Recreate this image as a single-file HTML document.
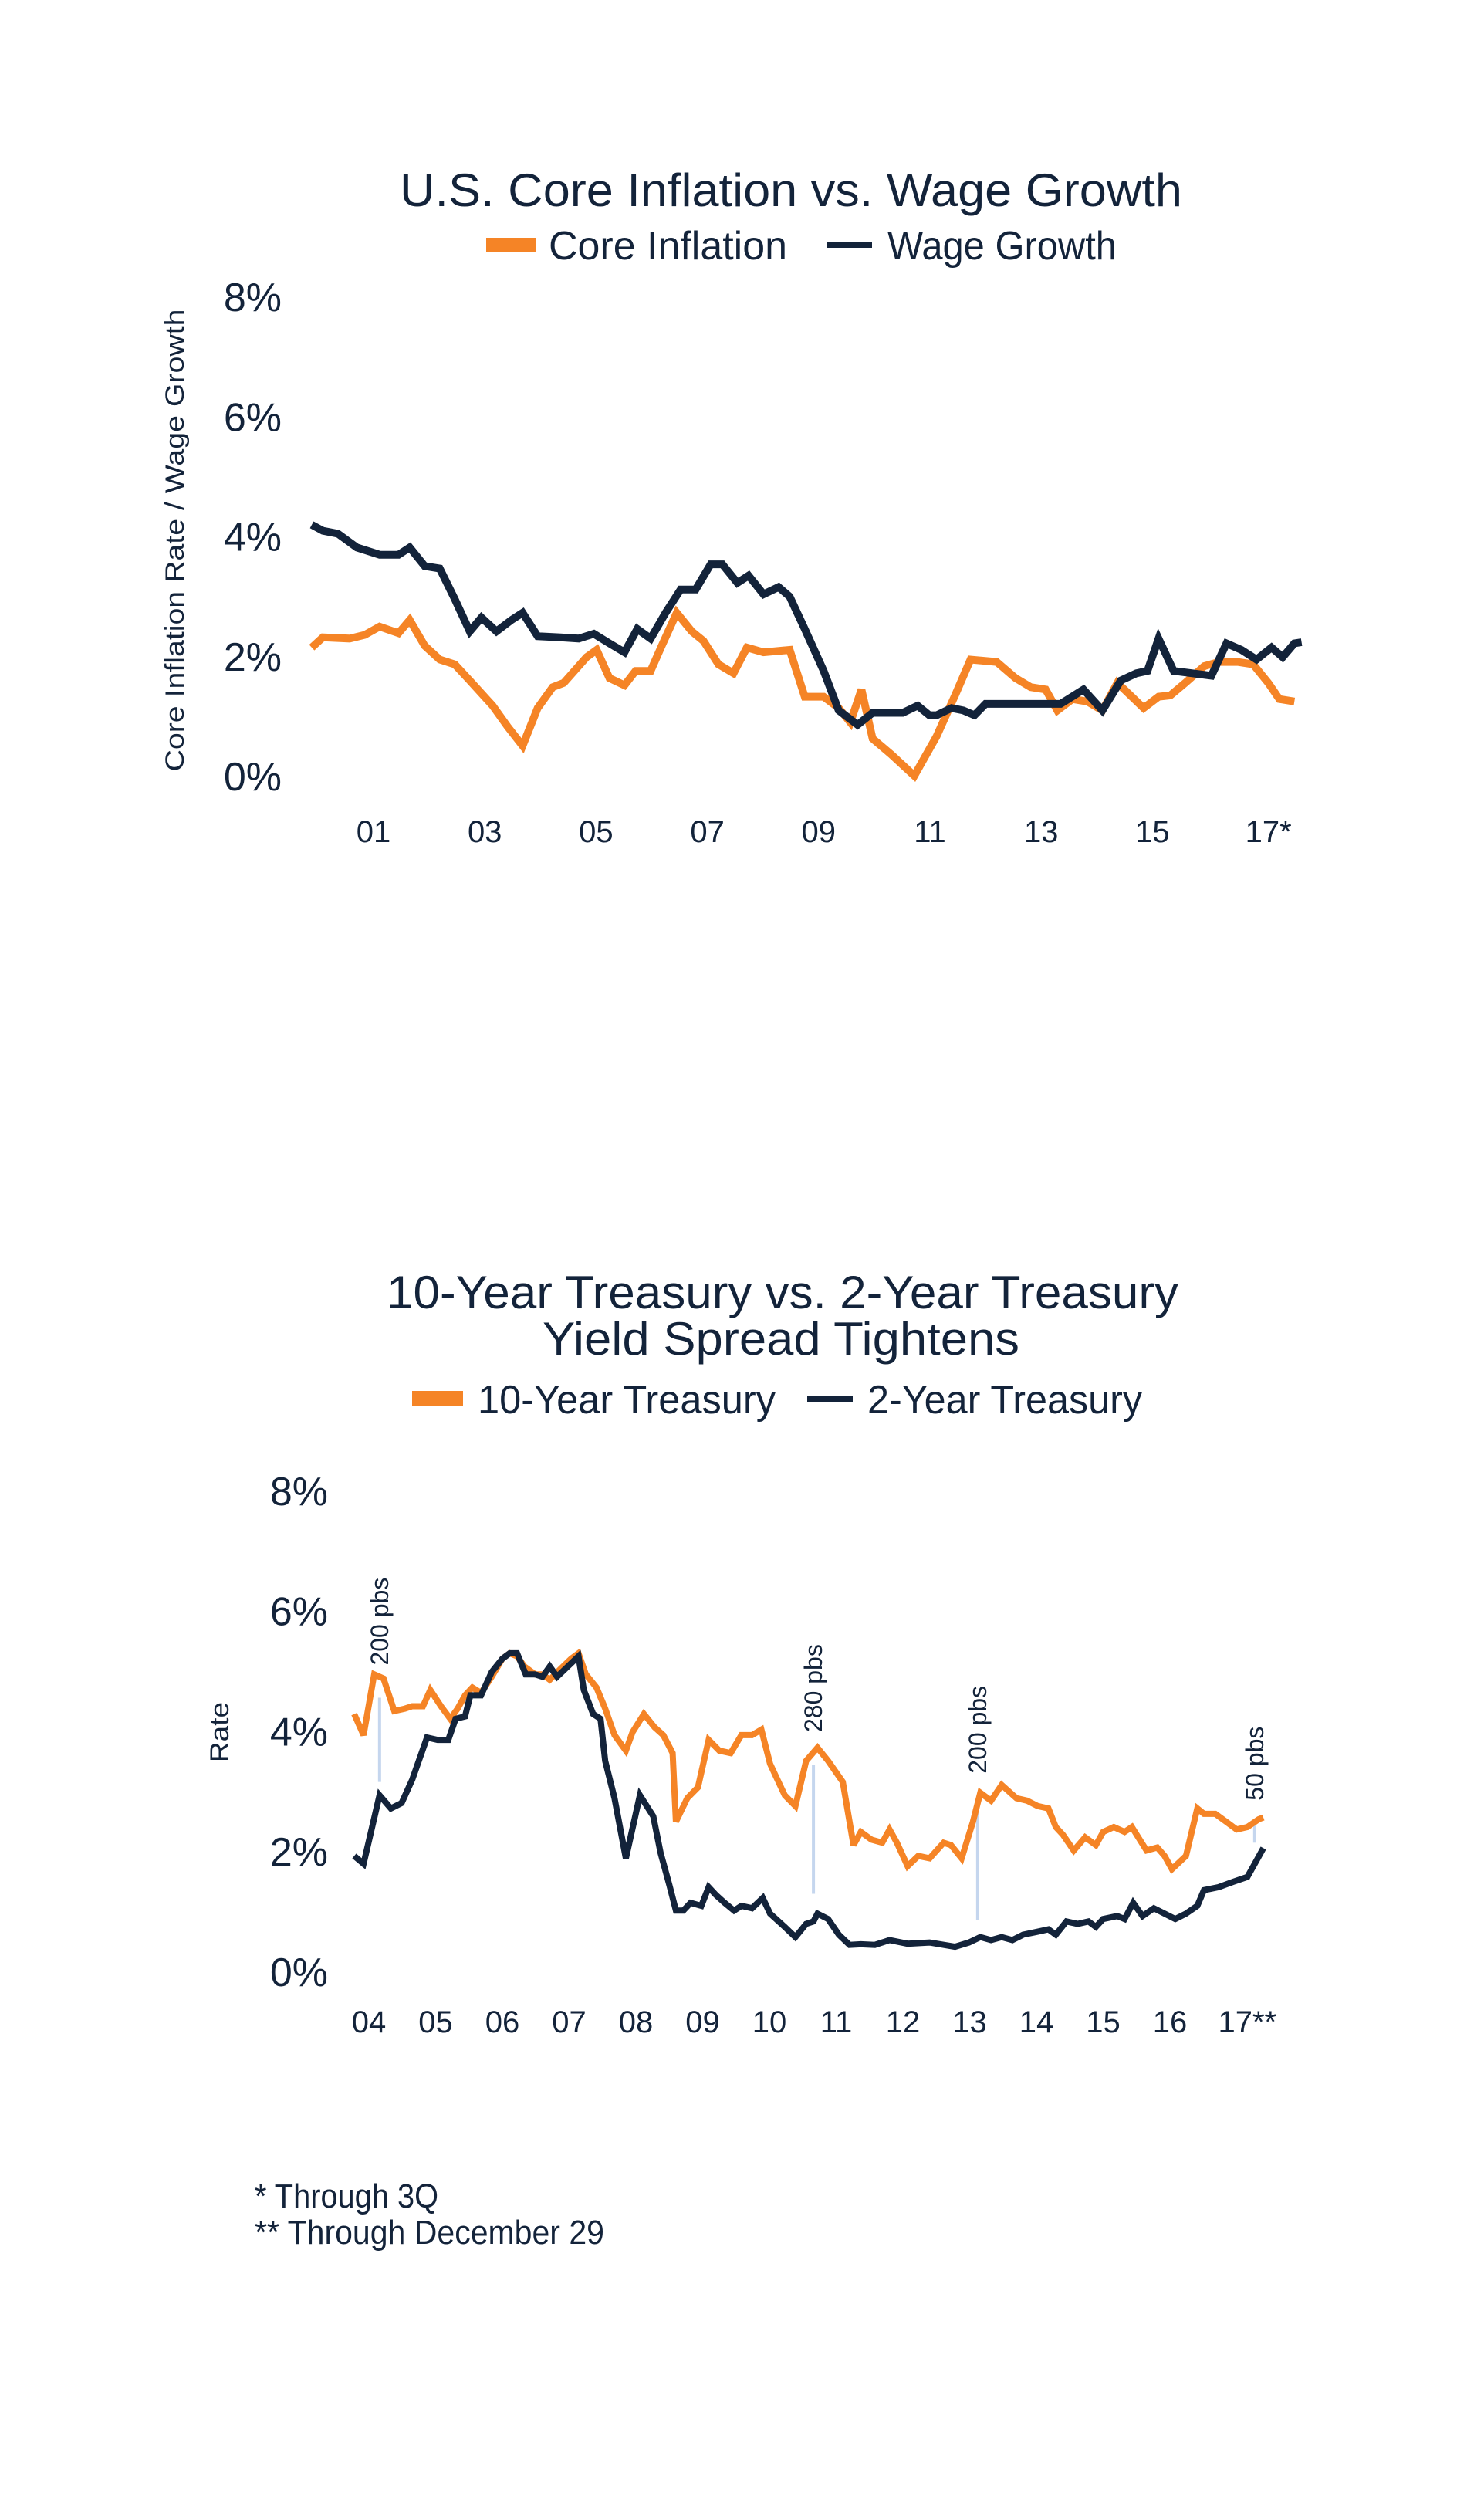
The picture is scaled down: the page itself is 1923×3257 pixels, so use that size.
<!DOCTYPE html>
<html><head><meta charset="utf-8"><style>
html,body{margin:0;padding:0;background:#fff;}
svg{display:block;}
text{font-family:"Liberation Sans",sans-serif;fill:#13233A;}
</style></head><body>
<svg id="page" width="1923" height="3257" viewBox="0 0 1923 3257" xmlns="http://www.w3.org/2000/svg">
<g id="chart1">
<text x="1025" y="267" font-size="60" text-anchor="middle" textLength="1014" lengthAdjust="spacingAndGlyphs">U.S. Core Inflation vs. Wage Growth</text>
<g>
<rect x="630" y="308" width="65" height="19" fill="#F58426"/>
<text x="711" y="336" font-size="52" textLength="309" lengthAdjust="spacingAndGlyphs">Core Inflation</text>
<rect x="1072" y="313" width="58" height="8" fill="#13233A"/>
<text x="1150" y="336" font-size="52" textLength="297" lengthAdjust="spacingAndGlyphs">Wage Growth</text>
</g>
<text transform="translate(238,700) rotate(-90)" font-size="34" text-anchor="middle" textLength="599" lengthAdjust="spacingAndGlyphs">Core Inflation Rate / Wage Growth</text>
<g id="c1-yticks"></g>
<g id="c1-xticks"></g>
<g id="c1-lines"></g>
</g>
<g id="chart2">
<text x="1014" y="1695" font-size="60" text-anchor="middle" textLength="1026" lengthAdjust="spacingAndGlyphs">10-Year Treasury vs. 2-Year Treasury</text>
<text x="1012" y="1755" font-size="60" text-anchor="middle" textLength="618" lengthAdjust="spacingAndGlyphs">Yield Spread Tightens</text>
<g>
<rect x="534" y="1802" width="66" height="19" fill="#F58426"/>
<text x="619" y="1831" font-size="52" textLength="386" lengthAdjust="spacingAndGlyphs">10-Year Treasury</text>
<rect x="1046" y="1808" width="59" height="8" fill="#13233A"/>
<text x="1124" y="1831" font-size="52" textLength="356" lengthAdjust="spacingAndGlyphs">2-Year Treasury</text>
</g>
<text transform="translate(296,2244) rotate(-90)" font-size="34" text-anchor="middle" textLength="78" lengthAdjust="spacingAndGlyphs">Rate</text>
<g id="c2-yticks"></g>
<g id="c2-xticks"></g>
<g id="c2-annot"></g>
<g id="c2-lines"></g>
</g>
<text x="330" y="2860" font-size="44" textLength="238" lengthAdjust="spacingAndGlyphs">* Through 3Q</text>
<text x="330" y="2907" font-size="44" textLength="453" lengthAdjust="spacingAndGlyphs">** Through December 29</text>
</svg>
<script>
const NS="http://www.w3.org/2000/svg";
// Chart 1 data
const c1YTicks=[0,2,4,6,8];
const c1YTickLabels=["0%","2%","4%","6%","8%"];
const c1XTicks=[2001,2003,2005,2007,2009,2011,2013,2015,2017];
const c1XTickLabels=["01","03","05","07","09","11","13","15","17*"];
const coreYears=[1999.89,2000.09,2000.57,2000.84,2001.11,2001.45,2001.65,2001.92,2002.19,2002.46,2002.73,2003.14,2003.41,2003.68,2003.95,2004.22,2004.42,2004.83,2005.01,2005.24,2005.51,2005.71,2005.98,2006.18,2006.45,2006.72,2006.93,2007.20,2007.47,2007.71,2008.01,2008.48,2008.75,2009.09,2009.36,2009.57,2009.77,2009.97,2010.31,2010.72,2011.12,2011.46,2011.73,2012.20,2012.54,2012.81,2013.08,2013.29,2013.56,2013.83,2014.10,2014.37,2014.84,2015.11,2015.32,2015.59,2015.93,2016.20,2016.53,2016.81,2017.08,2017.28,2017.55];
const coreValues=[2.14,2.31,2.29,2.35,2.49,2.38,2.60,2.17,1.94,1.86,1.59,1.17,0.82,0.50,1.13,1.48,1.55,1.98,2.10,1.63,1.51,1.75,1.75,2.17,2.72,2.41,2.25,1.86,1.71,2.14,2.06,2.10,1.32,1.32,1.13,0.89,1.44,0.62,0.35,0.00,0.66,1.36,1.94,1.90,1.63,1.48,1.44,1.09,1.28,1.24,1.09,1.55,1.13,1.32,1.34,1.55,1.83,1.90,1.90,1.86,1.55,1.28,1.24];
const wageYears=[1999.89,2000.09,2000.36,2000.70,2001.11,2001.45,2001.65,2001.92,2002.19,2002.46,2002.73,2002.94,2003.21,2003.48,2003.68,2003.95,2004.36,2004.69,2004.96,2005.24,2005.51,2005.74,2005.98,2006.25,2006.52,2006.79,2007.06,2007.27,2007.54,2007.74,2008.01,2008.28,2008.48,2008.75,2009.09,2009.36,2009.70,2009.97,2010.51,2010.78,2010.99,2011.12,2011.39,2011.60,2011.80,2012.00,2013.35,2013.76,2014.10,2014.43,2014.71,2014.91,2015.11,2015.38,2016.06,2016.33,2016.60,2016.87,2017.14,2017.34,2017.55,2017.68];
const wageValues=[4.19,4.09,4.04,3.81,3.69,3.69,3.81,3.50,3.46,2.95,2.41,2.64,2.41,2.60,2.72,2.33,2.31,2.29,2.37,2.21,2.06,2.45,2.29,2.72,3.11,3.11,3.53,3.53,3.22,3.34,3.03,3.15,2.99,2.45,1.75,1.09,0.85,1.05,1.05,1.17,1.01,1.01,1.13,1.09,1.01,1.20,1.20,1.44,1.09,1.59,1.71,1.75,2.29,1.75,1.67,2.21,2.10,1.94,2.14,1.98,2.21,2.23];
// Chart 2 data
const c2YTicks=[0,2,4,6,8];
const c2YTickLabels=["0%","2%","4%","6%","8%"];
const c2XTicks=[2004,2005,2006,2007,2008,2009,2010,2011,2012,2013,2014,2015,2016,2017];
const c2XTickLabels=["04","05","06","07","08","09","10","11","12","13","14","15","16","17**"];
const tenYears=[2003.78,2003.92,2004.08,2004.22,2004.38,2004.54,2004.65,2004.81,2004.92,2005.08,2005.22,2005.33,2005.44,2005.55,2005.68,2005.84,2006.00,2006.11,2006.22,2006.33,2006.49,2006.60,2006.71,2006.87,2007.03,2007.14,2007.25,2007.41,2007.54,2007.68,2007.85,2007.95,2008.12,2008.28,2008.41,2008.55,2008.60,2008.77,2008.93,2009.09,2009.25,2009.42,2009.58,2009.74,2009.88,2010.01,2010.23,2010.39,2010.55,2010.72,2010.88,2011.10,2011.26,2011.37,2011.53,2011.69,2011.80,2011.91,2012.07,2012.23,2012.40,2012.61,2012.72,2012.88,2013.05,2013.16,2013.32,2013.48,2013.70,2013.86,2014.02,2014.18,2014.29,2014.40,2014.56,2014.73,2014.89,2015.00,2015.16,2015.32,2015.43,2015.65,2015.81,2015.92,2016.03,2016.24,2016.41,2016.51,2016.68,2016.84,2017.00,2017.16,2017.33,2017.40];
const tenValues=[4.28,3.93,4.94,4.87,4.33,4.37,4.41,4.41,4.68,4.41,4.20,4.37,4.59,4.72,4.63,4.90,5.20,5.29,5.24,5.07,4.94,4.94,4.85,5.03,5.20,5.29,4.94,4.72,4.37,3.93,3.67,3.98,4.28,4.06,3.93,3.63,2.49,2.88,3.06,3.85,3.67,3.63,3.93,3.93,4.02,3.45,2.93,2.75,3.50,3.72,3.50,3.15,2.10,2.32,2.19,2.14,2.36,2.14,1.75,1.92,1.88,2.14,2.10,1.88,2.49,2.97,2.84,3.10,2.88,2.84,2.75,2.71,2.40,2.27,2.01,2.23,2.10,2.32,2.40,2.32,2.40,2.01,2.06,1.92,1.70,1.92,2.71,2.62,2.62,2.49,2.36,2.40,2.53,2.56];
const twoYears=[2003.78,2003.92,2004.16,2004.33,2004.49,2004.65,2004.87,2005.03,2005.19,2005.30,2005.44,2005.52,2005.68,2005.84,2006.00,2006.11,2006.22,2006.35,2006.49,2006.60,2006.71,2006.82,2006.98,2007.14,2007.22,2007.36,2007.47,2007.54,2007.68,2007.85,2008.06,2008.26,2008.37,2008.50,2008.60,2008.71,2008.82,2008.98,2009.09,2009.20,2009.33,2009.47,2009.58,2009.74,2009.90,2010.01,2010.23,2010.39,2010.55,2010.66,2010.72,2010.88,2011.04,2011.20,2011.37,2011.58,2011.80,2012.07,2012.40,2012.78,2012.99,2013.16,2013.32,2013.48,2013.64,2013.80,2014.02,2014.18,2014.29,2014.45,2014.62,2014.78,2014.89,2015.00,2015.21,2015.32,2015.45,2015.59,2015.76,2015.92,2016.08,2016.24,2016.41,2016.51,2016.73,2016.95,2017.16,2017.27,2017.40];
const twoValues=[1.92,1.79,2.93,2.71,2.80,3.19,3.89,3.85,3.85,4.20,4.24,4.59,4.59,4.98,5.20,5.29,5.29,4.94,4.94,4.90,5.07,4.90,5.07,5.24,4.68,4.28,4.20,3.50,2.88,1.88,2.93,2.58,1.97,1.44,1.01,1.01,1.14,1.09,1.40,1.27,1.14,1.01,1.09,1.05,1.22,0.96,0.74,0.57,0.79,0.83,0.96,0.87,0.61,0.44,0.45,0.44,0.52,0.46,0.48,0.41,0.48,0.57,0.52,0.57,0.52,0.61,0.66,0.70,0.61,0.83,0.79,0.83,0.74,0.87,0.92,0.87,1.14,0.92,1.05,0.96,0.87,0.96,1.09,1.35,1.40,1.49,1.57,1.79,2.05];
const spreadYears=[2004.16,2010.66,2013.12,2017.27];
const spreadHigh=[4.55,3.44,2.75,2.52];
const spreadLow=[3.15,1.29,0.86,2.14];
const spreadLabels=["200 pbs","280 pbs","200 pbs","50 pbs"];

function x1(y){return 484+(y-2001)*72.1;}
function y1(v){return 1005-v*77.6;}
function x2(y){return 478+(y-2004)*86.5;}
function y2(v){return 2554-v*77.9;}

function mk(tag,parent){const e=document.createElementNS(NS,tag);parent.appendChild(e);return e;}

function drawTicks(gy,gx,yt,ytl,xt,xtl,fx,fy,rightX,xLabelY){
  yt.forEach((v,i)=>{const t=mk('text',gy);
    
    
    t.setAttribute('x',rightX);t.setAttribute('y',fy(v)+19);
    t.setAttribute('text-anchor','end');t.setAttribute('font-size','52');t.textContent=ytl[i];});
  xt.forEach((v,i)=>{const t=mk('text',gx);
    
    
    t.setAttribute('x',fx(v));t.setAttribute('y',xLabelY);
    t.setAttribute('font-size','40');
    if(xtl[i].indexOf('*')>=0){t.setAttribute('x',fx(v)-24);t.setAttribute('text-anchor','start');}
    else t.setAttribute('text-anchor','middle');
    t.textContent=xtl[i];});
}
function drawLine(g,xs,vs,fx,fy,color,w,name){
  const p=mk('polyline',g);
  
  
  p.setAttribute('points',xs.map((x,i)=>fx(x).toFixed(1)+','+fy(vs[i]).toFixed(1)).join(' '));
  p.setAttribute('fill','none');p.setAttribute('stroke',color);p.setAttribute('stroke-width',w);
  p.setAttribute('stroke-linejoin','miter');p.setAttribute('stroke-miterlimit','3');
}
drawTicks(document.getElementById('c1-yticks'),document.getElementById('c1-xticks'),c1YTicks,c1YTickLabels,c1XTicks,c1XTickLabels,x1,y1,365,1091);
drawLine(document.getElementById('c1-lines'),coreYears,coreValues,x1,y1,'#F58426',10,'core-inflation-line');
drawLine(document.getElementById('c1-lines'),wageYears,wageValues,x1,y1,'#13233A',10,'wage-growth-line');

drawTicks(document.getElementById('c2-yticks'),document.getElementById('c2-xticks'),c2YTicks,c2YTickLabels,c2XTicks,c2XTickLabels,x2,y2,425,2633);
const ga=document.getElementById('c2-annot');
spreadYears.forEach((yr,i)=>{
  const l=mk('line',ga);
  
  
  l.setAttribute('x1',x2(yr));l.setAttribute('x2',x2(yr));
  l.setAttribute('y1',y2(spreadHigh[i]));l.setAttribute('y2',y2(spreadLow[i]));
  l.setAttribute('stroke','#c5d6ee');l.setAttribute('stroke-width','4');
  const t=mk('text',ga);
  
  
  const ty=y2(spreadHigh[i])-(i==3?25:42);
  t.setAttribute('transform','translate('+(x2(yr)+11)+','+ty+') rotate(-90)');
  t.setAttribute('font-size','32');t.setAttribute('text-anchor','start');
  t.textContent=spreadLabels[i];
});
drawLine(document.getElementById('c2-lines'),tenYears,tenValues,x2,y2,'#F58426',8,'ten-year-line');
drawLine(document.getElementById('c2-lines'),twoYears,twoValues,x2,y2,'#13233A',8,'two-year-line');
</script>
</body></html>
